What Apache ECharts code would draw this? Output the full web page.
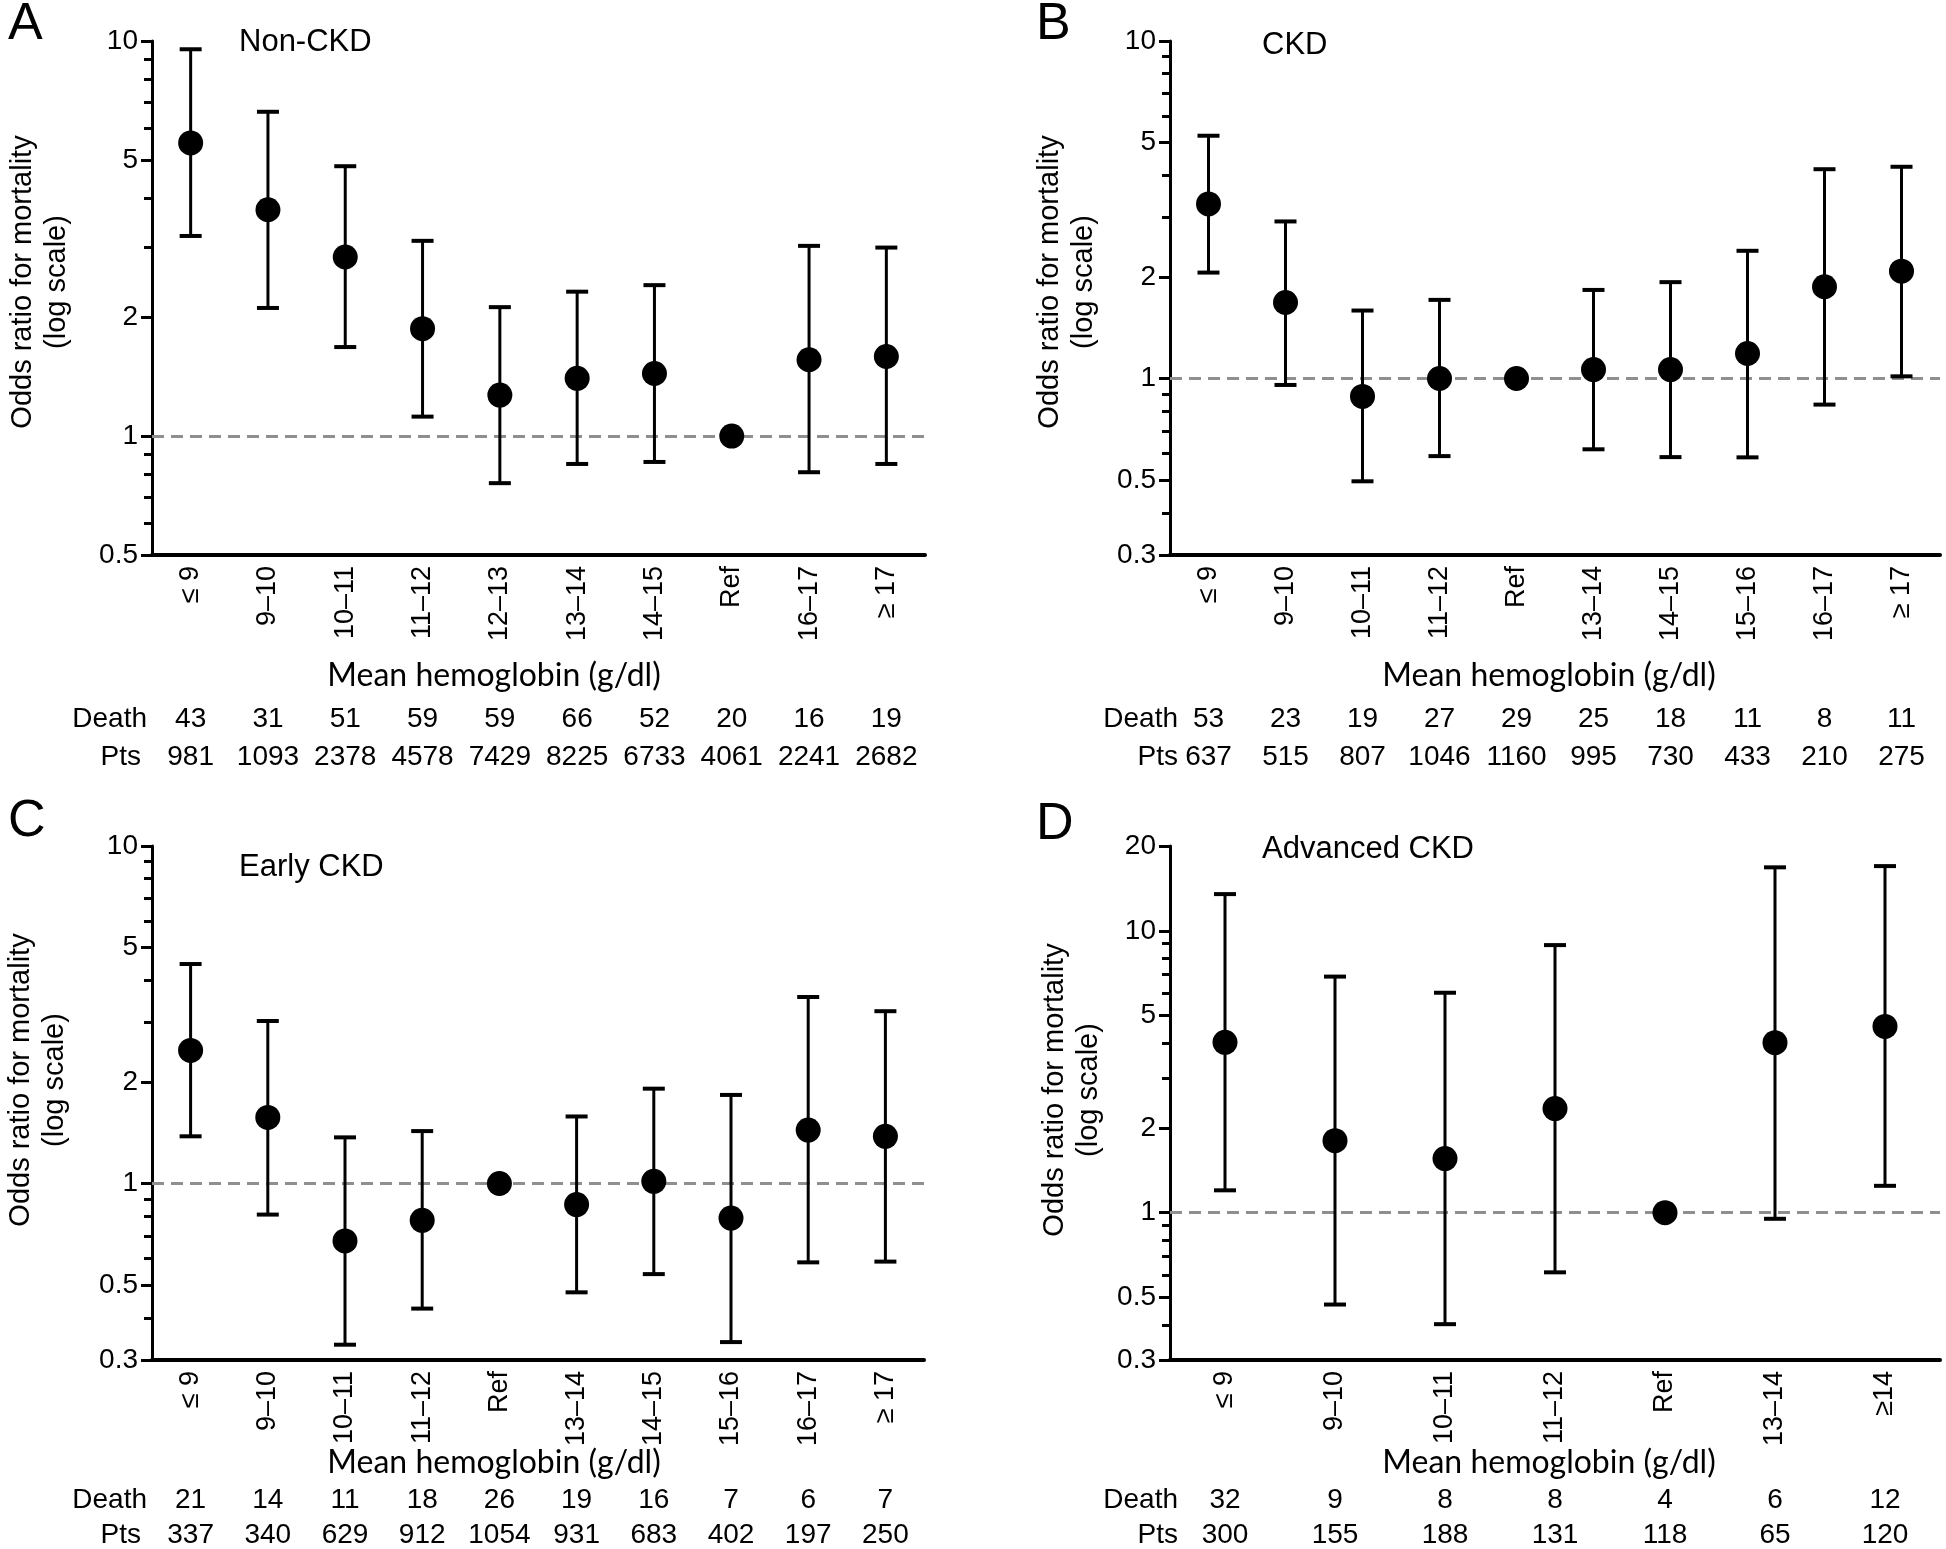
<!DOCTYPE html>
<html>
<head>
<meta charset="utf-8">
<script src="https://cdn.jsdelivr.net/npm/echarts@6/dist/echarts.min.js"></script>
<style>
  html, body { margin: 0; padding: 0; background: #fff; }
  #chart { width: 1946px; height: 1549px; }
</style>
</head>
<body>
<div id="chart"></div>
<script>
// ---------- Data ----------
const catsA = ['≤ 9', '9–10', '10–11', '11–12', '12–13', '13–14', '14–15', 'Ref', '16–17', '≥ 17'];
const orA   = [5.52, 3.74, 2.84, 1.87, 1.27, 1.40, 1.44, 1.00, 1.56, 1.59];
const loA   = [3.21, 2.11, 1.68, 1.12, 0.76, 0.85, 0.86, null, 0.81, 0.85];
const hiA   = [9.53, 6.62, 4.82, 3.12, 2.12, 2.32, 2.41, null, 3.03, 3.00];
const deathA = [43, 31, 51, 59, 59, 66, 52, 20, 16, 19];
const ptsA   = [981, 1093, 2378, 4578, 7429, 8225, 6733, 4061, 2241, 2682];

const catsB = ['≤ 9', '9–10', '10–11', '11–12', 'Ref', '13–14', '14–15', '15–16', '16–17', '≥ 17'];
const orB   = [3.29, 1.68, 0.885, 1.00, 1.00, 1.063, 1.063, 1.186, 1.87, 2.08];
const loB   = [2.06, 0.957, 0.496, 0.589, null, 0.617, 0.585, 0.584, 0.837, 1.015];
const hiB   = [5.24, 2.92, 1.59, 1.71, null, 1.83, 1.93, 2.39, 4.17, 4.24];
const deathB = [53, 23, 19, 27, 29, 25, 18, 11, 8, 11];
const ptsB   = [637, 515, 807, 1046, 1160, 995, 730, 433, 210, 275];

const catsC = ['≤ 9', '9–10', '10–11', '11–12', 'Ref', '13–14', '14–15', '15–16', '16–17', '≥ 17'];
const orC   = [2.48, 1.57, 0.676, 0.778, 1.00, 0.866, 1.015, 0.79, 1.44, 1.38];
const loC   = [1.38, 0.809, 0.333, 0.426, null, 0.476, 0.539, 0.339, 0.584, 0.587];
const hiC   = [4.47, 3.03, 1.37, 1.43, null, 1.58, 1.91, 1.83, 3.57, 3.24];
const deathC = [21, 14, 11, 18, 26, 19, 16, 7, 6, 7];
const ptsC   = [337, 340, 629, 912, 1054, 931, 683, 402, 197, 250];

const catsD = ['≤ 9', '9–10', '10–11', '11–12', 'Ref', '13–14', '≥14'];
const orD   = [4.02, 1.80, 1.555, 2.34, 1.00, 4.01, 4.58];
const loD   = [1.20, 0.472, 0.402, 0.614, null, 0.951, 1.245];
const hiD   = [13.5, 6.88, 6.03, 8.90, null, 16.8, 16.97];
const deathD = [32, 9, 8, 8, 4, 6, 12];
const ptsD   = [300, 155, 188, 131, 118, 65, 120];

const majorA = [0.5, 1, 2, 5, 10];
const minorA = [0.6, 0.7, 0.8, 0.9, 3, 4, 6, 7, 8, 9];
const majorBC = [0.3, 0.5, 1, 2, 5, 10];
const minorBC = [0.4, 0.6, 0.7, 0.8, 0.9, 3, 4, 6, 7, 8, 9];
const majorD = [0.3, 0.5, 1, 2, 5, 10, 20];
const minorD = [0.4, 0.6, 0.7, 0.8, 0.9, 3, 4, 6, 7, 8, 9];

const panelLetters = ['A', 'B', 'C', 'D'];
const panelTitles = ['Non-CKD', 'CKD', 'Early CKD', 'Advanced CKD'];
const yTitle = 'Odds ratio for mortality\n(log scale)';
const xTitle = 'Mean hemoglobin (g/dl)';
const rowNames = ['Death', 'Pts'];

// ---------- Layout / style ----------
const SANS = '"Liberation Sans", Arial, sans-serif';
const panels = [
  { cats: catsA, or: orA, lo: loA, hi: hiA, death: deathA, pts: ptsA, major: majorA, minor: minorA, min: 0.5, max: 10,
    grid: { left: 152, top: 41, width: 773, height: 514 }, rowOff: [164, 202], xTitleY: 676,
    letter: [8, 25], title: [239, 42], yTitle: [40, 282], xTitleX: 494, rowNameX: [147, 141] },
  { cats: catsB, or: orB, lo: loB, hi: hiB, death: deathB, pts: ptsB, major: majorBC, minor: minorBC, min: 0.3, max: 10,
    grid: { left: 1170, top: 41, width: 770, height: 514 }, rowOff: [164, 202], xTitleY: 676,
    letter: [1036, 25], title: [1262, 45], yTitle: [1067, 282], xTitleX: 1549, rowNameX: [1178, 1178] },
  { cats: catsC, or: orC, lo: loC, hi: hiC, death: deathC, pts: ptsC, major: majorBC, minor: minorBC, min: 0.3, max: 10,
    grid: { left: 152, top: 846, width: 772, height: 514 }, rowOff: [140, 175], xTitleY: 1463,
    letter: [8, 822], title: [239, 867], yTitle: [38, 1080], xTitleX: 494, rowNameX: [147, 141] },
  { cats: catsD, or: orD, lo: loD, hi: hiD, death: deathD, pts: ptsD, major: majorD, minor: minorD, min: 0.3, max: 20,
    grid: { left: 1170, top: 846, width: 770, height: 514 }, rowOff: [140, 175], xTitleY: 1463,
    letter: [1036, 825], title: [1262, 849], yTitle: [1072, 1090], xTitleX: 1549, rowNameX: [1178, 1178] }
];

const grids = [], xAxes = [], yAxes = [], series = [], graphics = [];

function fmt(v) { return String(+(+v).toPrecision(3)); }

panels.forEach((p, k) => {
  grids.push(Object.assign({ containLabel: false, outerBoundsMode: 'none' }, p.grid));
  // main category axis
  xAxes.push({
    gridIndex: k, type: 'category', data: p.cats, boundaryGap: true,
    axisLine: { show: true, onZero: false, lineStyle: { color: '#000', width: 4 } },
    axisTick: { show: false },
    splitLine: { show: false },
    axisLabel: { rotate: 90, interval: 0, margin: 11, fontSize: 27, color: '#000', fontFamily: SANS }
  });
  // Death and Pts rows
  [p.death, p.pts].forEach((arr, r) => {
    xAxes.push({
      gridIndex: k, type: 'category', position: 'bottom', offset: p.rowOff[r],
      data: arr.map(String), boundaryGap: true,
      axisLine: { show: false }, axisTick: { show: false }, splitLine: { show: false },
      axisLabel: { interval: 0, margin: 0, verticalAlign: 'middle', fontSize: 28, color: '#000', fontFamily: SANS }
    });
  });
  // main log y-axis with major ticks and labels
  yAxes.push({
    gridIndex: k, type: 'log', logBase: 10, min: p.min, max: p.max, position: 'left',
    axisLine: { show: true, onZero: false, lineStyle: { color: '#000', width: 3 } },
    axisTick: { show: true, length: 11, lineStyle: { color: '#000', width: 3 }, customValues: p.major },
    axisLabel: { customValues: p.major, formatter: v => fmt(v), fontSize: 28, margin: 14, color: '#000', fontFamily: SANS },
    splitLine: { show: false }, minorTick: { show: false }
  });
  // minor ticks axis (same scale, left side)
  yAxes.push({
    gridIndex: k, type: 'log', logBase: 10, min: p.min, max: p.max, position: 'left', offset: 0,
    axisLine: { show: false },
    axisTick: { show: true, length: 8, lineStyle: { color: '#000', width: 3 }, customValues: p.minor },
    axisLabel: { show: false },
    splitLine: { show: false }, minorTick: { show: false }
  });

  const xi = k * 3, yi = k * 2;
  const errData = [];
  p.cats.forEach((c, i) => { if (p.lo[i] != null) errData.push([i, p.lo[i], p.hi[i]]); });

  series.push({
    type: 'custom', xAxisIndex: xi, yAxisIndex: yi, z: 10,
    encode: { x: 0, y: [1, 2] },
    data: errData,
    renderItem: function (params, api) {
      const i = api.value(0);
      const a = api.coord([i, api.value(1)]);
      const b = api.coord([i, api.value(2)]);
      const hw = 11;
      return {
        type: 'group',
        children: [
          { type: 'line', shape: { x1: a[0], y1: a[1], x2: b[0], y2: b[1] }, style: { stroke: '#000', lineWidth: 3 } },
          { type: 'line', shape: { x1: b[0] - hw, y1: b[1], x2: b[0] + hw, y2: b[1] }, style: { stroke: '#000', lineWidth: 4 } },
          { type: 'line', shape: { x1: a[0] - hw, y1: a[1], x2: a[0] + hw, y2: a[1] }, style: { stroke: '#000', lineWidth: 4 } }
        ]
      };
    }
  });
  series.push({
    type: 'scatter', xAxisIndex: xi, yAxisIndex: yi, z: 12,
    symbol: 'circle', symbolSize: 25,
    itemStyle: { color: '#000', opacity: 1 },
    data: p.or.map((v, i) => [i, v]),
    markLine: {
      silent: true, symbol: 'none', z: 1,
      label: { show: false },
      lineStyle: { color: '#8f8f8f', type: [12, 7], width: 3 },
      data: [{ yAxis: 1 }]
    }
  });

  // texts
  graphics.push({ type: 'text', x: p.letter[0], y: p.letter[1],
    style: { text: panelLetters[k], fontSize: 52, fontFamily: SANS, fill: '#000', align: 'left', verticalAlign: 'middle' } });
  graphics.push({ type: 'text', x: p.title[0], y: p.title[1],
    style: { text: panelTitles[k], fontSize: 31, fontFamily: SANS, fill: '#000', align: 'left', verticalAlign: 'middle' } });
  graphics.push({ type: 'text', x: p.yTitle[0], y: p.yTitle[1], rotation: Math.PI / 2,
    style: { text: yTitle, fontSize: 29, lineHeight: 34, fontFamily: SANS, fill: '#000', align: 'center', verticalAlign: 'middle' } });
  graphics.push({ type: 'text', x: p.xTitleX, y: p.xTitleY,
    style: { text: xTitle, fontSize: 32, fontFamily: 'Lato, "Open Sans", sans-serif', fill: '#000', align: 'center', verticalAlign: 'middle' } });
  rowNames.forEach((nm, r) => {
    graphics.push({ type: 'text', x: p.rowNameX[r], y: p.grid.top + p.grid.height + p.rowOff[r],
      style: { text: nm, fontSize: 28, fontFamily: SANS, fill: '#000', align: 'right', verticalAlign: 'middle' } });
  });
});

const chart = echarts.init(document.getElementById('chart'), null, { renderer: 'canvas', width: 1946, height: 1549 });
chart.setOption({
  backgroundColor: '#fff',
  animation: false,
  grid: grids,
  xAxis: xAxes,
  yAxis: yAxes,
  series: series,
  graphic: graphics
});
</script>
</body>
</html>
